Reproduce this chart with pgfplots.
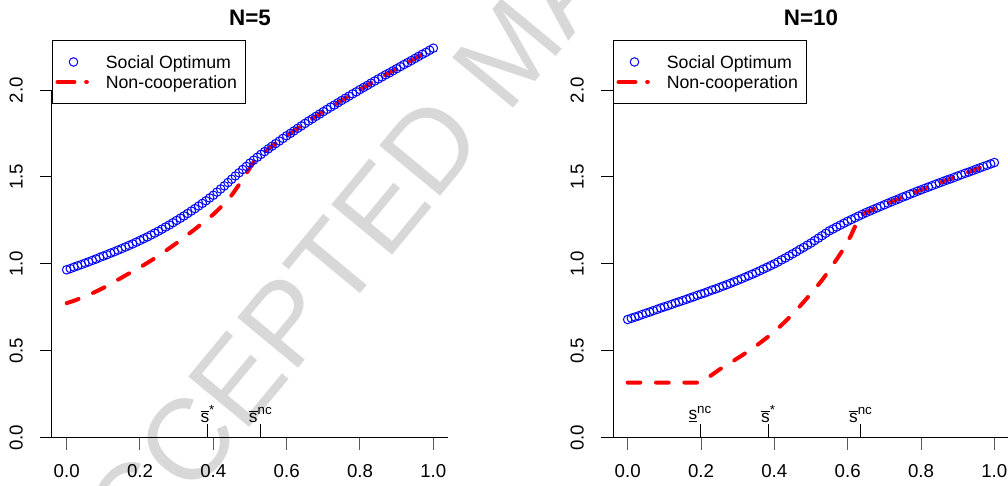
\documentclass[border=0pt]{standalone}
\usepackage{fontspec}
\setmainfont{Liberation Sans}
\usepackage{pgfplots}
\pgfplotsset{compat=1.18}
\usepackage{pgfplotstable}

\definecolor{wmgray}{RGB}{216,216,216}

% N=5 panel: x, social optimum, non-cooperation
\pgfplotstableread{
x so nc
0.00 0.966 0.774
0.01 0.973 0.781
0.02 0.981 0.788
0.03 0.989 0.796
0.04 0.996 0.804
0.05 1.004 0.812
0.06 1.012 0.821
0.07 1.020 0.831
0.08 1.028 0.841
0.09 1.037 0.851
0.10 1.045 0.862
0.11 1.053 0.873
0.12 1.062 0.885
0.13 1.070 0.897
0.14 1.079 0.909
0.15 1.088 0.921
0.16 1.097 0.933
0.17 1.106 0.945
0.18 1.115 0.956
0.19 1.125 0.968
0.20 1.135 0.980
0.21 1.145 0.993
0.22 1.155 1.006
0.23 1.166 1.019
0.24 1.177 1.032
0.25 1.188 1.046
0.26 1.200 1.060
0.27 1.212 1.075
0.28 1.224 1.090
0.29 1.237 1.105
0.30 1.250 1.120
0.31 1.263 1.136
0.32 1.276 1.152
0.33 1.290 1.168
0.34 1.304 1.184
0.35 1.318 1.200
0.36 1.333 1.217
0.37 1.348 1.234
0.38 1.363 1.251
0.39 1.379 1.268
0.40 1.395 1.285
0.41 1.413 1.305
0.42 1.431 1.326
0.43 1.449 1.348
0.44 1.468 1.371
0.45 1.487 1.395
0.46 1.506 1.425
0.47 1.524 1.455
0.48 1.543 1.487
0.49 1.561 1.520
0.50 1.580 1.553
0.51 1.597 1.586
0.52 1.614 1.614
0.53 1.630 1.630
0.54 1.646 1.646
0.55 1.662 1.662
0.56 1.677 1.677
0.57 1.692 1.692
0.58 1.707 1.707
0.59 1.722 1.722
0.60 1.737 1.737
0.61 1.751 1.751
0.62 1.765 1.765
0.63 1.780 1.780
0.64 1.794 1.794
0.65 1.808 1.808
0.66 1.822 1.822
0.67 1.835 1.835
0.68 1.849 1.849
0.69 1.862 1.862
0.70 1.876 1.876
0.71 1.889 1.889
0.72 1.902 1.902
0.73 1.914 1.914
0.74 1.927 1.927
0.75 1.940 1.940
0.76 1.953 1.953
0.77 1.965 1.965
0.78 1.978 1.978
0.79 1.990 1.990
0.80 2.003 2.003
0.81 2.015 2.015
0.82 2.027 2.027
0.83 2.040 2.040
0.84 2.052 2.052
0.85 2.064 2.064
0.86 2.076 2.076
0.87 2.088 2.088
0.88 2.099 2.099
0.89 2.111 2.111
0.90 2.123 2.123
0.91 2.135 2.135
0.92 2.147 2.147
0.93 2.158 2.158
0.94 2.170 2.170
0.95 2.182 2.182
0.96 2.194 2.194
0.97 2.206 2.206
0.98 2.217 2.217
0.99 2.229 2.229
1.00 2.241 2.241
}\leftdata

% N=10 panel
\pgfplotstableread{
x so nc
0.00 0.680 0.317
0.01 0.687 0.317
0.02 0.694 0.317
0.03 0.701 0.317
0.04 0.709 0.317
0.05 0.716 0.317
0.06 0.723 0.317
0.07 0.731 0.317
0.08 0.738 0.317
0.09 0.746 0.317
0.10 0.753 0.317
0.11 0.760 0.317
0.12 0.767 0.317
0.13 0.775 0.317
0.14 0.782 0.317
0.15 0.789 0.317
0.16 0.796 0.317
0.17 0.804 0.317
0.18 0.811 0.317
0.19 0.819 0.317
0.20 0.826 0.317
0.21 0.833 0.332
0.22 0.841 0.347
0.23 0.849 0.362
0.24 0.856 0.377
0.25 0.864 0.392
0.26 0.872 0.405
0.27 0.880 0.418
0.28 0.888 0.431
0.29 0.897 0.444
0.30 0.905 0.458
0.31 0.914 0.471
0.32 0.923 0.485
0.33 0.932 0.499
0.34 0.941 0.513
0.35 0.950 0.528
0.36 0.960 0.544
0.37 0.970 0.560
0.38 0.980 0.576
0.39 0.990 0.593
0.40 1.000 0.610
0.41 1.011 0.629
0.42 1.023 0.649
0.43 1.034 0.669
0.44 1.046 0.690
0.45 1.058 0.712
0.46 1.070 0.734
0.47 1.083 0.757
0.48 1.095 0.781
0.49 1.108 0.805
0.50 1.120 0.830
0.51 1.134 0.855
0.52 1.148 0.880
0.53 1.162 0.906
0.54 1.176 0.935
0.55 1.190 0.966
0.56 1.201 0.996
0.57 1.212 1.026
0.58 1.223 1.058
0.59 1.234 1.092
0.60 1.245 1.128
0.61 1.255 1.168
0.62 1.265 1.215
0.63 1.275 1.275
0.64 1.285 1.285
0.65 1.295 1.295
0.66 1.304 1.304
0.67 1.313 1.313
0.68 1.322 1.322
0.69 1.331 1.331
0.70 1.340 1.340
0.71 1.349 1.349
0.72 1.358 1.358
0.73 1.366 1.366
0.74 1.375 1.375
0.75 1.384 1.384
0.76 1.392 1.392
0.77 1.401 1.401
0.78 1.409 1.409
0.79 1.418 1.418
0.80 1.426 1.426
0.81 1.434 1.434
0.82 1.442 1.442
0.83 1.450 1.450
0.84 1.458 1.458
0.85 1.466 1.466
0.86 1.474 1.474
0.87 1.482 1.482
0.88 1.489 1.489
0.89 1.497 1.497
0.90 1.505 1.505
0.91 1.513 1.513
0.92 1.521 1.521
0.93 1.528 1.528
0.94 1.536 1.536
0.95 1.544 1.544
0.96 1.552 1.552
0.97 1.560 1.560
0.98 1.567 1.567
0.99 1.575 1.575
1.00 1.583 1.583
}\rightdata

\newcommand{\smark}[2]{%
  \draw[line width=0.75pt] (axis cs:#1,0) -- (axis cs:#1,0.08);
  \node[anchor=south, inner sep=0pt, yshift=1pt, font=\fontsize{13}{13}\selectfont] at (axis cs:#1,0.08) {#2};
}

\pgfplotsset{
  panel/.style={
    scale only axis, width=297pt, height=309.75pt, anchor=south west,
    xmin=-0.04, xmax=1.04, ymin=-0.088, ymax=2.288,
    clip=false,
    axis x line=middle, axis y line=left,
    x axis line style={-, black, line width=0.75pt},
    y axis line style={draw=none},
    hide obscured x ticks=false, hide obscured y ticks=false,
    xtick={0,0.2,0.4,0.6,0.8,1}, ytick={0,0.5,1,1.5,2},
    minor tick num=0,
    tick align=outside, major tick length=9pt,
    x tick style={black!65, line width=0.75pt},
    y tick style={black, line width=0.75pt},
    tick label style={font=\fontsize{14}{16}\selectfont},
    xticklabel style={anchor=north, inner sep=0pt, yshift=-10.5pt},
    yticklabel style={xshift=-12.75pt, anchor=south, inner sep=0pt, rotate=90},
    /pgf/number format/fixed, /pgf/number format/fixed zerofill,
    /pgf/number format/precision=1, /pgf/number format/assume math mode=true,
    legend style={at={(0,1)}, anchor=north west, draw=black, line width=0.75pt,
      fill=white, inner xsep=2.25pt, inner ysep=11pt, row sep=4.8pt, column sep=12.75pt,
      font=\fontsize{13.3}{15}\selectfont,
      nodes={inner sep=0pt, text height=10.2pt, text depth=0pt}},
    legend cell align=left,
  },
  so/.style={only marks, mark=o, mark size=3.2pt, blue, line width=0.75pt,
    legend image code/.code={\draw[##1] plot coordinates {(13.5pt,0pt)};}},
  nc/.style={red, line width=3pt, line cap=round, dash pattern=on 9.5pt off 11.75pt,
    legend image code/.code={\draw[##1, solid] (1.5pt,0pt) -- (14.25pt,0pt);
      \draw[##1, solid] (23pt,0pt) -- (23.5pt,0pt);}},
}

\begin{document}
\begin{tikzpicture}
\useasboundingbox (0,0) rectangle (756pt,364.5pt);
\begin{scope}
\clip (0,0) rectangle (756pt,364.5pt);
\node[rotate=50.4, inner sep=0pt, text=wmgray, font=\fontsize{86}{90}\selectfont]
  at (382.5pt,326.25pt) {ACCEPTED MANUSCRIPT};
\end{scope}

\begin{axis}[panel, at={(39pt,24.75pt)}]
\addplot[so] table[x=x, y=so] {\leftdata};
\addlegendentry{Social Optimum}
\addplot[nc] table[x=x, y=nc] {\leftdata};
\addlegendentry{Non-cooperation\hspace*{4.5pt}}
\draw[line width=0.75pt] (axis cs:-0.04,0) -- (axis cs:-0.04,2);
\node[anchor=base, yshift=11.25pt, font=\bfseries\fontsize{16.8}{20}\selectfont] at (rel axis cs:0.5,1) {N=5};
\smark{0.385}{$\overline{\mbox{s}}^{\mbox{\fontsize{10}{10}\selectfont *}}$}
\smark{0.529}{$\overline{\mbox{s}}^{\mbox{\fontsize{10}{10}\selectfont nc}}$}
\end{axis}

\begin{axis}[panel, at={(459.75pt,24.75pt)}]
\addplot[so] table[x=x, y=so] {\rightdata};
\addlegendentry{Social Optimum}
\addplot[nc] table[x=x, y=nc] {\rightdata};
\addlegendentry{Non-cooperation\hspace*{4.5pt}}
\draw[line width=0.75pt] (axis cs:-0.04,0) -- (axis cs:-0.04,2);
\node[anchor=base, yshift=11.25pt, font=\bfseries\fontsize{16.8}{20}\selectfont] at (rel axis cs:0.5,1) {N=10};
\smark{0.198}{$\underline{\mbox{s}}^{\mbox{\fontsize{10}{10}\selectfont nc}}$}
\smark{0.384}{$\overline{\mbox{s}}^{\mbox{\fontsize{10}{10}\selectfont *}}$}
\smark{0.636}{$\overline{\mbox{s}}^{\mbox{\fontsize{10}{10}\selectfont nc}}$}
\end{axis}
\end{tikzpicture}
\end{document}
